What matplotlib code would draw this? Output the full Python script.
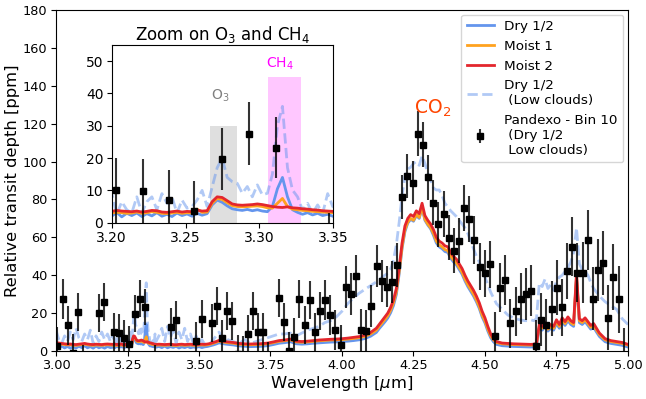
import matplotlib.pyplot as plt

# model wavelength grid [um]
wave = [3.00, 3.01, 3.02, 3.03, 3.04, 3.05, 3.06, 3.07, 3.08, 3.09,
        3.10, 3.11, 3.12, 3.13, 3.14, 3.15, 3.16, 3.17, 3.18, 3.19,
        3.2000, 3.2034, 3.2068, 3.2102, 3.2136, 3.2170, 3.2204, 3.2238, 3.2272, 3.2306,
        3.2340, 3.2374, 3.2408, 3.2442, 3.2476, 3.2510, 3.2544, 3.2578, 3.2612, 3.2646,
        3.2680, 3.2714, 3.2748, 3.2782, 3.2816, 3.2850, 3.2884, 3.2918, 3.2952, 3.2986,
        3.3020, 3.3054, 3.3088, 3.3122, 3.3156, 3.3190, 3.3224, 3.3258, 3.3292, 3.3326,
        3.3360, 3.3394, 3.3428, 3.3462, 3.3496,
        3.36, 3.37, 3.38, 3.39, 3.40, 3.41, 3.42, 3.43, 3.44, 3.45,
        3.46, 3.47, 3.48, 3.49, 3.50, 3.51, 3.52, 3.53, 3.54, 3.55,
        3.56, 3.57, 3.58, 3.59, 3.60,
        3.62, 3.64, 3.66, 3.68, 3.70, 3.72, 3.74, 3.76, 3.78, 3.80,
        3.82, 3.84, 3.86, 3.88, 3.90, 3.92, 3.94, 3.96, 3.98, 4.00,
        4.02, 4.04, 4.06, 4.08, 4.10,
        4.12, 4.13, 4.14, 4.15, 4.16, 4.17, 4.18, 4.19, 4.20, 4.21,
        4.22, 4.23, 4.24, 4.25, 4.26, 4.27, 4.28, 4.29, 4.30, 4.31,
        4.32, 4.33, 4.34, 4.35, 4.36, 4.37, 4.38, 4.39, 4.40, 4.41,
        4.42, 4.43, 4.44, 4.45, 4.46, 4.47, 4.48, 4.49, 4.50, 4.51,
        4.52, 4.53, 4.54,
        4.56, 4.58, 4.60, 4.62, 4.64,
        4.65, 4.66, 4.67, 4.68, 4.69, 4.70, 4.71, 4.72, 4.73, 4.74,
        4.75, 4.76, 4.77, 4.78, 4.79, 4.80, 4.81, 4.82, 4.83, 4.84,
        4.85, 4.86, 4.87, 4.88, 4.89, 4.90,
        4.92, 4.94, 4.96, 4.98, 5.00]

# transit depth [ppm] for each case
dry = [3.0, 1.8, 2.6, 1.6, 2.4, 1.5, 2.2, 1.6, 2.5, 1.8,
       2.8, 1.7, 2.3, 1.5, 2.6, 1.7, 2.2, 1.5, 2.4, 1.8,
       2.0, 3.2, 1.8, 2.9, 2.2, 3.0, 1.9, 2.8, 2.1, 3.1,
       2.0, 2.6, 1.9, 3.0, 2.2, 2.7, 2.0, 2.9, 2.3, 2.8,
       5.5, 7.0, 6.3, 5.2, 4.3, 4.0, 3.8, 4.1, 3.7, 4.0,
       3.6, 3.4, 5.0, 10.5, 14.0, 8.0, 4.0, 3.2, 2.6, 3.1,
       2.4, 2.9, 2.2, 2.6, 2.0,
       2.4, 1.8, 2.6, 1.7, 2.3, 1.9, 2.5, 1.6, 2.2, 1.8,
       2.4, 1.7, 2.1, 1.9, 2.3, 1.8, 2.2, 2.4, 2.8, 3.2,
       3.7, 4.3, 4.0, 3.7, 3.5,
       3.2, 2.7, 2.5, 2.3, 2.4, 2.5, 2.8, 3.4, 4.1, 4.4,
       4.9, 3.8, 3.6, 3.8, 4.1, 4.3, 4.5, 4.7, 4.8, 5.0,
       5.2, 5.5, 5.9, 6.6, 7.8,
       9.8, 11.8, 13.6, 15.4, 17.4, 20.2, 24.0, 29.8, 40.8, 54.0,
       63.0, 67.5, 69.5, 68.5, 71.5, 70.0, 75.5, 69.0, 66.5, 64.5,
       61.0, 57.0, 55.0, 54.0, 52.5, 52.0, 49.0, 47.0, 45.5, 43.0,
       40.5, 37.0, 34.0, 31.5, 29.0, 26.0, 22.5, 18.0, 14.8, 10.5,
       7.0, 4.8, 3.5,
       2.8, 2.6, 2.4, 2.3, 2.2,
       2.2, 2.1, 2.2, 2.6, 12.0, 11.0, 13.0, 10.5, 12.0, 11.0,
       14.5, 12.0, 15.5, 13.5, 16.0, 14.0, 13.0, 38.5, 15.0, 14.0,
       15.5, 13.5, 11.5, 12.5, 10.0, 7.7,
       4.9, 4.0, 3.5, 3.0, 2.1]

moist1 = [4.1, 3.8, 3.6, 3.4, 3.2, 3.3, 3.1, 3.0, 3.2, 3.4,
          3.6, 3.3, 3.1, 3.0, 3.2, 3.1, 3.0, 3.2, 3.3, 3.2,
          3.0, 3.2, 3.1, 2.9, 3.0, 3.3, 2.9, 3.1, 3.4, 3.2,
          2.9, 2.8, 3.0, 3.2, 2.9, 3.1, 3.0, 4.2, 3.2, 3.3,
          6.0, 7.5, 7.2, 6.2, 5.3, 5.0, 4.9, 5.0, 5.1, 5.2,
          5.0, 4.6, 4.5, 6.0, 7.5, 5.0, 4.2, 4.0, 3.8, 3.7,
          3.5, 3.4, 3.3, 3.2, 3.1,
          3.2, 3.1, 3.0, 3.1, 3.2, 3.0, 2.9, 3.1, 3.2, 3.0,
          3.1, 3.2, 3.0, 2.9, 3.1, 3.2, 3.1, 3.3, 3.6, 4.1,
          4.6, 5.2, 4.9, 4.6, 4.4,
          4.1, 3.6, 3.4, 3.3, 3.4, 3.5, 3.8, 4.4, 5.1, 5.4,
          5.9, 4.8, 4.6, 4.8, 5.1, 5.4, 5.6, 5.8, 5.9, 6.0,
          6.3, 6.6, 7.0, 7.7, 9.0,
          11.0, 13.0, 14.8, 16.7, 18.6, 21.5, 25.4, 31.2, 42.0, 55.0,
          64.0, 68.0, 70.0, 69.0, 72.0, 70.5, 76.0, 69.5, 67.0, 65.0,
          62.0, 58.0, 56.0, 55.0, 53.5, 53.0, 50.0, 48.0, 46.5, 44.0,
          41.5, 38.0, 35.0, 32.5, 30.0, 27.0, 23.5, 19.0, 15.8, 11.5,
          8.0, 5.8, 4.5,
          3.8, 3.6, 3.4, 3.3, 3.2,
          3.2, 3.1, 3.2, 3.6, 13.0, 12.0, 14.0, 11.5, 13.0, 12.0,
          15.5, 13.0, 16.5, 14.5, 17.0, 15.0, 14.0, 39.5, 16.0, 15.0,
          16.5, 14.5, 12.5, 13.5, 11.0, 8.7,
          5.9, 5.0, 4.5, 4.0, 3.1]

moist2 = [4.5, 4.2, 4.0, 3.8, 3.6, 3.7, 3.5, 3.4, 3.6, 3.8,
          4.0, 3.7, 3.5, 3.4, 3.6, 3.5, 3.4, 3.6, 3.7, 3.6,
          3.5, 3.8, 3.6, 3.5, 3.4, 3.6, 3.3, 3.5, 3.8, 3.7,
          3.3, 3.2, 3.4, 3.6, 3.3, 3.5, 3.4, 3.9, 3.6, 3.7,
          6.5, 8.0, 7.8, 6.8, 5.8, 5.5, 5.4, 5.5, 5.6, 5.8,
          5.6, 5.3, 5.0, 4.8, 4.7, 4.9, 4.6, 4.5, 4.3, 4.2,
          4.0, 3.9, 3.7, 3.6, 3.5,
          3.6, 3.5, 3.4, 3.5, 3.6, 3.4, 3.3, 3.5, 3.6, 3.4,
          3.5, 3.6, 3.4, 3.3, 3.5, 3.6, 3.5, 3.7, 4.0, 4.5,
          5.0, 5.6, 5.3, 5.0, 4.8,
          4.5, 4.0, 3.8, 3.7, 3.8, 3.9, 4.2, 4.8, 5.5, 5.8,
          6.3, 5.2, 5.0, 5.2, 5.5, 5.8, 6.0, 6.2, 6.3, 6.5,
          6.8, 7.2, 7.6, 8.4, 9.8,
          12.0, 14.0, 16.0, 18.0, 20.0, 23.0, 27.0, 33.0, 44.0, 57.0,
          66.0, 70.0, 72.0, 71.0, 74.0, 72.5, 78.0, 71.5, 69.0, 67.0,
          64.0, 60.0, 58.0, 57.0, 55.5, 55.0, 52.0, 50.0, 48.5, 46.0,
          43.5, 40.0, 37.0, 34.5, 32.0, 29.0, 25.5, 21.0, 17.5, 13.0,
          9.0, 6.5, 5.0,
          4.2, 4.0, 3.8, 3.7, 3.6,
          3.6, 3.5, 3.6, 4.0, 14.0, 13.0, 15.0, 12.5, 14.0, 13.0,
          16.5, 14.0, 17.5, 15.5, 18.0, 16.0, 15.0, 41.0, 17.0, 16.0,
          17.5, 15.5, 13.5, 14.5, 12.0, 9.5,
          6.5, 5.5, 5.0, 4.5, 3.5]

dry_low_clouds = [11.0, 6.0, 4.0, 8.0, 5.0, 10.0, 6.0, 12.0, 7.0, 5.0,
                  9.0, 6.0, 11.0, 4.0, 8.0, 5.0, 10.0, 6.0, 9.0, 5.0,
                  9.1, 2.5, 6.5, 4.0, 3.0, 8.0, 3.0, 6.5, 8.0, 4.0,
                  9.0, 6.0, 8.0, 3.0, 7.0, 4.5, 5.0, 7.0, 10.0, 5.0,
                  11.0, 17.0, 20.0, 14.0, 12.7, 12.2, 9.1, 11.2, 8.0, 11.7,
                  8.6, 9.1, 15.0, 30.0, 36.0, 17.0, 10.1, 8.0, 3.9, 6.0,
                  2.9, 5.5, 2.9, 9.0, 5.0,
                  8.0, 12.0, 5.0, 13.0, 7.0, 11.0, 4.0, 10.0, 6.0, 12.0,
                  5.0, 9.0, 4.0, 8.0, 3.5, 6.0, 3.5, 5.0, 4.0, 6.0,
                  8.0, 10.0, 7.0, 8.0, 6.0,
                  5.0, 4.0, 6.0, 4.0, 5.0, 6.0, 7.0, 8.0, 9.0, 9.0,
                  9.5, 8.0, 9.5, 11.0, 12.0, 13.0, 15.0, 16.0, 18.0, 21.0,
                  25.0, 28.0, 30.5, 32.5, 34.5,
                  36.5, 37.5, 39.0, 40.0, 41.0, 43.0, 48.0, 56.0, 68.0, 82.0,
                  92.0, 96.0, 97.0, 99.0, 100.0, 98.0, 103.0, 99.0, 94.0, 90.0,
                  86.0, 85.0, 85.0, 82.0, 78.0, 76.0, 74.0, 72.5, 71.0, 69.0,
                  67.0, 65.0, 62.0, 58.0, 54.0, 50.0, 47.0, 43.0, 39.0, 35.0,
                  31.0, 28.0, 25.0,
                  22.0, 19.0, 17.5, 16.5, 16.0,
                  16.0, 16.5, 16.0, 17.0, 36.0, 34.0, 38.0, 33.0, 35.0, 32.0,
                  37.0, 39.0, 40.0, 42.0, 44.0, 47.0, 52.0, 65.0, 46.0, 43.0,
                  42.0, 40.0, 36.0, 33.0, 31.0, 29.0,
                  26.0, 24.0, 22.0, 17.0, 14.0]

# simulated observation (bin 10)
obs_wave = [3.005, 3.023, 3.041, 3.059, 3.077, 3.095, 3.149, 3.167, 3.203, 3.221,
            3.239, 3.256, 3.275, 3.293, 3.311, 3.347, 3.401, 3.419, 3.491, 3.509,
            3.545, 3.563, 3.581, 3.599, 3.617, 3.635, 3.653, 3.671, 3.689, 3.707,
            3.725, 3.743, 3.779, 3.797, 3.815, 3.833, 3.851, 3.869, 3.887, 3.905,
            3.923, 3.941, 3.959, 3.977, 3.995, 4.013, 4.031, 4.049, 4.067, 4.085,
            4.103, 4.121, 4.139, 4.157, 4.175, 4.193, 4.211, 4.229, 4.247, 4.265,
            4.283, 4.301, 4.319, 4.337, 4.355, 4.373, 4.391, 4.409, 4.427, 4.445,
            4.463, 4.481, 4.499, 4.517, 4.535, 4.553, 4.571, 4.589, 4.607, 4.625,
            4.643, 4.661, 4.679, 4.697, 4.715, 4.733, 4.751, 4.769, 4.787, 4.805,
            4.823, 4.841, 4.859, 4.877, 4.895, 4.913, 4.931, 4.949, 4.967, 4.985]
obs_depth = [2.6, 27.4, 13.5, -1.0, 20.6, -7.0, 20.0, 25.9, 10.0, 9.7,
             6.9, 3.5, 19.7, 27.6, 23.2, -7.0, 12.5, 16.3, 5.3, 16.7,
             15.0, 23.7, 6.6, 20.9, 15.7, -1.5, -2.0, 9.1, 21.1, 10.0,
             9.9, -5.0, 27.9, 15.5, 0.2, 7.2, 27.6, 13.8, 26.9, 10.0,
             20.9, 26.9, 18.9, 11.2, 3.4, 33.8, 30.1, 39.6, 11.1, 10.7,
             23.9, 44.9, 37.0, 34.0, 36.6, 45.4, 81.2, 92.4, 88.9, 114.8,
             109.0, 91.7, 78.3, 66.9, 72.2, 59.8, 53.0, 58.3, 75.4, 69.7,
             58.6, 44.5, 41.0, 45.8, 8.1, 33.5, 37.5, 14.6, 21.0, 27.5,
             30.1, 31.9, 2.6, 16.4, 13.5, 22.2, 33.3, 23.1, 42.2, 55.0,
             41.4, 41.4, 58.5, 27.6, 42.8, 46.4, 17.6, 39.2, 27.2, -6.0]
obs_err = [10.0, 10.5, 10.5, 10.0, 10.0, 10.0, 10.0, 10.0, 10.0, 10.0,
           9.5, 9.5, 9.7, 9.7, 9.5, 10.0, 10.0, 10.0, 10.0, 10.0,
           10.0, 10.0, 10.0, 10.0, 10.0, 10.0, 10.0, 10.0, 10.0, 10.0,
           10.0, 10.0, 10.0, 10.0, 10.0, 10.0, 10.0, 10.0, 10.0, 10.0,
           10.0, 10.5, 10.5, 10.5, 10.5, 11.0, 11.0, 11.0, 11.0, 11.0,
           11.0, 11.0, 11.0, 11.0, 11.0, 11.5, 11.5, 11.5, 11.5, 12.0,
           12.0, 12.0, 12.0, 12.0, 12.0, 12.0, 12.0, 12.0, 12.0, 12.0,
           12.5, 12.5, 12.5, 12.5, 12.5, 13.0, 13.0, 13.0, 13.0, 13.5,
           13.5, 13.5, 14.0, 14.0, 14.0, 14.5, 14.5, 15.0, 15.0, 15.5,
           15.5, 16.0, 16.0, 16.5, 16.5, 17.0, 17.0, 17.5, 17.5, 18.0]

blue = 'cornflowerblue'
orange = '#ffa21f'
red = '#e3262d'


def draw(ax):
    low, = ax.plot(wave, dry_low_clouds, color=blue, ls='--', lw=2, alpha=0.5)
    d, = ax.plot(wave, dry, color=blue, lw=2)
    m1, = ax.plot(wave, moist1, color=orange, lw=2)
    m2, = ax.plot(wave, moist2, color=red, lw=2)
    eb = ax.errorbar(obs_wave, obs_depth, yerr=obs_err, fmt='s', color='k', ms=4.5,
                     ecolor=(0, 0, 0, 0.8), elinewidth=1.5)
    return d, m1, m2, low, eb


fig = plt.figure(figsize=(6.46, 3.99), dpi=100)
ax = fig.add_axes([0.0867, 0.1203, 0.8854, 0.8546])
d, m1, m2, low, eb = draw(ax)
ax.set_xlim(3.0, 5.0)
ax.set_ylim(0, 180)
ax.set_xticks([3.0, 3.25, 3.5, 3.75, 4.0, 4.25, 4.5, 4.75, 5.0])
ax.set_xticklabels(['3.00', '3.25', '3.50', '3.75', '4.00', '4.25', '4.50', '4.75', '5.00'])
ax.set_yticks(range(0, 181, 20))
ax.tick_params(labelsize=9.3, pad=2.5)
ax.set_xlabel('Wavelength [$\\mu$m]', fontsize=11.8, labelpad=1)
ax.set_ylabel('Relative transit depth [ppm]', fontsize=11.8, labelpad=2)
ax.text(4.318, 128, 'CO$_2$', color='orangered', fontsize=13.5, ha='center', va='center')
ax.legend([d, m1, m2, low, eb],
          ['Dry 1/2', 'Moist 1', 'Moist 2', 'Dry 1/2\n (Low clouds)', 'Pandexo - Bin 10\n (Dry 1/2\n Low clouds)'],
          loc='upper right', fontsize=9.7, borderaxespad=0.35)

# zoom on the O3 and CH4 features
axin = fig.add_axes([0.1729, 0.4419, 0.343, 0.4454])
axin.fill_between([3.2665, 3.285], 0, 30, color='grey', alpha=0.25, lw=0)
axin.fill_between([3.3058, 3.328], 0, 45, color='magenta', alpha=0.22, lw=0)
draw(axin)
axin.text(3.2735, 38, 'O$_3$', color='grey', fontsize=10, ha='center')
axin.text(3.3139, 48, 'CH$_4$', color='magenta', fontsize=10, ha='center')
axin.set_xlim(3.2, 3.35)
axin.set_ylim(0, 55)
axin.set_xticks([3.2, 3.25, 3.3, 3.35])
axin.set_xticklabels(['3.20', '3.25', '3.30', '3.35'])
axin.set_yticks(range(0, 51, 10))
axin.tick_params(labelsize=10, pad=2.5)
axin.set_title('Zoom on O$_3$ and CH$_4$', fontsize=12, pad=3)

plt.savefig('out.png', dpi=100)
